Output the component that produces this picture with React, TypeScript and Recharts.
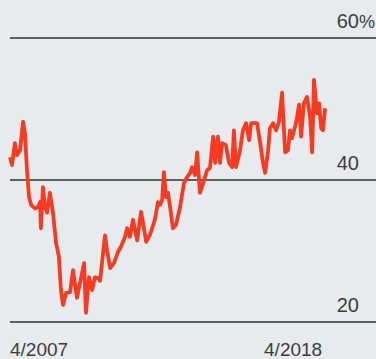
import { LineChart, Line, XAxis, YAxis, CartesianGrid, ReferenceLine } from "recharts";

// decimal years (4/2007 = 2007.25)
const years = [
  2007.25, 2007.33, 2007.44, 2007.52, 2007.64, 2007.76, 2007.83, 2007.91, 2007.99, 2008.07,
  2008.22, 2008.34, 2008.42, 2008.45, 2008.53, 2008.61, 2008.69, 2008.8, 2008.92, 2009.04,
  2009.15, 2009.23, 2009.31, 2009.43, 2009.58, 2009.7, 2009.85, 2009.97, 2010.13, 2010.2,
  2010.32, 2010.44, 2010.55, 2010.67, 2010.75, 2010.94, 2011.02, 2011.14, 2011.29, 2011.45,
  2011.56, 2011.72, 2011.8, 2011.91, 2012.03, 2012.19, 2012.34, 2012.42, 2012.54, 2012.69,
  2012.88, 2013.0, 2013.08, 2013.16, 2013.23, 2013.31, 2013.39, 2013.47, 2013.58, 2013.7,
  2013.86, 2014.01, 2014.13, 2014.25, 2014.32, 2014.44, 2014.52, 2014.63, 2014.75, 2014.91,
  2015.02, 2015.14, 2015.22, 2015.33, 2015.41, 2015.49, 2015.64, 2015.76, 2015.88, 2015.95,
  2016.03, 2016.19, 2016.3, 2016.42, 2016.54, 2016.62, 2016.73, 2016.85, 2016.97, 2017.08,
  2017.16, 2017.28, 2017.35, 2017.47, 2017.59, 2017.7, 2017.82, 2017.94, 2018.05, 2018.13,
  2018.21, 2018.36, 2018.48, 2018.56, 2018.67, 2018.79, 2018.91, 2018.99, 2019.06, 2019.18,
  2019.26, 2019.34, 2019.41, 2019.49,
];

// percent
const share = [
  43.2, 42.1, 45.2, 43.5, 44.2, 48.2, 46.6, 41.4, 37.6, 36.5,
  36.0, 36.2, 36.9, 33.2, 39.0, 36.2, 35.4, 38.2, 35.4, 31.1,
  29.2, 24.5, 22.4, 24.1, 24.2, 27.3, 23.4, 25.5, 28.3, 21.3,
  26.3, 24.5, 26.3, 26.2, 25.8, 32.2, 30.1, 27.6, 28.3, 29.9,
  30.6, 32.0, 33.2, 32.0, 34.4, 31.5, 35.5, 33.9, 31.3, 32.3,
  34.4, 36.9, 36.5, 37.2, 41.1, 37.6, 38.2, 36.2, 33.2, 33.7,
  36.2, 39.6, 40.4, 41.0, 41.8, 40.7, 43.9, 38.2, 39.5, 41.4,
  41.7, 46.1, 42.4, 46.1, 42.4, 45.2, 44.9, 42.4, 41.8, 47.0,
  41.8, 44.2, 47.0, 48.0, 45.6, 48.0, 48.0, 48.0, 45.2, 42.4,
  41.0, 44.2, 47.3, 48.0, 47.0, 48.2, 52.3, 43.9, 44.2, 47.0,
  45.9, 48.0, 50.6, 46.1, 50.8, 51.7, 48.9, 43.9, 54.1, 49.4,
  50.8, 47.3, 47.0, 50.1,
];

const yTicks = [20, 40, 60];
const xTicks = [2007.25, 2018.25];
const xTickLabels = ["4/2007", "4/2018"];

const data = years.map((t, i) => ({ t, v: share[i] }));

const FONT = '"Liberation Sans", Arial, Helvetica, sans-serif';
const TEXT = "#3d3d3d";

const XTick = ({ x, payload, index }: any) => (
  <text
    x={x}
    y={356}
    textAnchor={index === 0 ? "start" : "middle"}
    fill={TEXT}
    fontSize={19}
    fontFamily={FONT}
  >
    {xTickLabels[xTicks.indexOf(payload.value)]}
  </text>
);

// value label sits above its gridline, digits right-aligned, "%" hangs past them
const yLabel = (value: number) => (props: any) => {
  const vb = props.viewBox || {};
  const y = vb.y - 10;
  const top = value === yTicks[yTicks.length - 1];
  return (
    <g>
      <text x={359} y={y} textAnchor="end" fill={TEXT} fontSize={20} fontFamily={FONT}>
        {value}
      </text>
      {top && (
        <text x={359} y={y} textAnchor="start" fill={TEXT} fontSize={18} fontFamily={FONT}>
          %
        </text>
      )}
    </g>
  );
};

export default function App() {
  return (
    <div
      style={{
        position: "absolute",
        top: 0,
        left: 0,
        width: 376,
        height: 359,
        background: "#e7ebee",
        overflow: "hidden",
      }}
    >
      <LineChart width={376} height={359} data={data} margin={{ top: 38, right: 0, bottom: 0, left: 10 }}>
        <CartesianGrid vertical={false} stroke="#55645b" strokeWidth={2} />
        <XAxis
          dataKey="t"
          type="number"
          domain={[2007.25, 2021.47]}
          ticks={xTicks}
          axisLine={false}
          tickLine={false}
          height={37}
          tick={<XTick />}
          interval={0}
        />
        <YAxis hide domain={[20, 60]} ticks={yTicks} />
        {yTicks.map((v) => (
          <ReferenceLine key={v} y={v} stroke="none" label={yLabel(v)} />
        ))}
        <Line
          type="linear"
          dataKey="v"
          stroke="#f83a20"
          strokeWidth={3.8}
          strokeLinejoin="round"
          dot={false}
          isAnimationActive={false}
        />
      </LineChart>
    </div>
  );
}
